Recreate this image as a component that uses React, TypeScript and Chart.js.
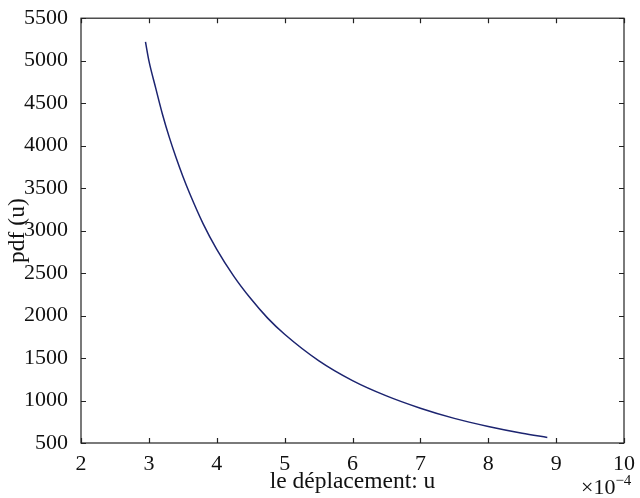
import React, { useEffect, useRef } from "react";
import { Chart, registerables } from "chart.js";

Chart.register(...registerables);

// x values are in units of 1e-4
const uValues = [2.95, 3.0, 3.1, 3.2, 3.3, 3.4, 3.5, 3.6, 3.8, 4.0, 4.25, 4.5, 4.75, 5.0, 5.5, 6.0, 6.5, 7.0, 7.5, 8.0, 8.5, 8.87];
const pdfValues = [5220, 5000, 4680, 4370, 4100, 3860, 3640, 3440, 3080, 2780, 2465, 2200, 1970, 1780, 1470, 1235, 1055, 910, 790, 695, 615, 565];
const xTicks = [2, 3, 4, 5, 6, 7, 8, 9, 10];
const yTicks = [500, 1000, 1500, 2000, 2500, 3000, 3500, 4000, 4500, 5000, 5500];

const FONT = "'Liberation Serif', 'DejaVu Serif', serif";

const boxPlugin = {
  id: "matlabBox",
  afterDraw(chart: any) {
    const { ctx, chartArea } = chart;
    const { left, right, top, bottom } = chartArea;
    const xs = chart.scales.x;
    const ys = chart.scales.y;
    ctx.save();
    ctx.strokeStyle = "#222";
    ctx.lineWidth = 1.2;
    ctx.strokeRect(left, top, right - left, bottom - top);
    const tl = 5;
    ctx.beginPath();
    xTicks.forEach((v) => {
      const px = Math.round(xs.getPixelForValue(v)) + 0.5;
      ctx.moveTo(px, bottom);
      ctx.lineTo(px, bottom - tl);
      ctx.moveTo(px, top);
      ctx.lineTo(px, top + tl);
    });
    yTicks.forEach((v) => {
      const py = Math.round(ys.getPixelForValue(v)) + 0.5;
      ctx.moveTo(left, py);
      ctx.lineTo(left + tl, py);
      ctx.moveTo(right, py);
      ctx.lineTo(right - tl, py);
    });
    ctx.stroke();
    // exponent label
    ctx.fillStyle = "#111";
    ctx.textBaseline = "alphabetic";
    ctx.textAlign = "left";
    ctx.font = `22px ${FONT}`;
    const base = "\u00d710";
    ctx.fillText(base, 581, 494);
    const w = ctx.measureText(base).width;
    ctx.font = `15px ${FONT}`;
    ctx.fillText("\u22124", 581 + w, 485);
    ctx.restore();
  },
};

export default function App() {
  const ref = useRef<HTMLCanvasElement | null>(null);
  useEffect(() => {
    document.body.style.margin = "0";
    if (!ref.current) return;
    const chart = new Chart(ref.current, {
      type: "line",
      data: {
        datasets: [
          {
            data: uValues.map((u, i) => ({ x: u, y: pdfValues[i] })),
            borderColor: "#1c2470",
            borderWidth: 1.5,
            pointRadius: 0,
            cubicInterpolationMode: "monotone",
            fill: false,
          },
        ],
      },
      options: {
        responsive: false,
        animation: false,
        layout: { padding: { top: 16, right: 16, left: 0, bottom: 0 } },
        plugins: { legend: { display: false }, tooltip: { enabled: false } },
        scales: {
          x: {
            type: "linear",
            min: 2,
            max: 10,
            afterFit: (s: any) => {
              s.height = 55;
            },
            afterBuildTicks: (s: any) => {
              s.ticks = xTicks.map((v) => ({ value: v }));
            },
            grid: { display: false },
            border: { display: false },
            ticks: {
              color: "#111",
              padding: 0,
              font: { family: FONT, size: 22 },
              maxRotation: 0,
              callback: (v: any) => String(v),
            },
            title: {
              display: true,
              text: "le déplacement: u",
              color: "#111",
              font: { family: FONT, size: 23.5 },
              padding: { top: 0, bottom: 2 },
            },
          },
          y: {
            type: "linear",
            min: 500,
            max: 5500,
            afterFit: (s: any) => {
              s.width = 81;
            },
            afterBuildTicks: (s: any) => {
              s.ticks = yTicks.map((v) => ({ value: v }));
            },
            grid: { display: false },
            border: { display: false },
            ticks: {
              color: "#111",
              padding: 5,
              font: { family: FONT, size: 22 },
              callback: (v: any) => String(v),
            },
            title: {
              display: true,
              text: "pdf (u)",
              color: "#111",
              font: { family: FONT, size: 23.5 },
              padding: { top: 4, bottom: 0 },
            },
          },
        },
      },
      plugins: [boxPlugin],
    } as any);
    return () => chart.destroy();
  }, []);
  return (
    <div style={{ width: 640, height: 498, background: "#fff" }}>
      <canvas ref={ref} width={640} height={498} style={{ display: "block" }} />
    </div>
  );
}
